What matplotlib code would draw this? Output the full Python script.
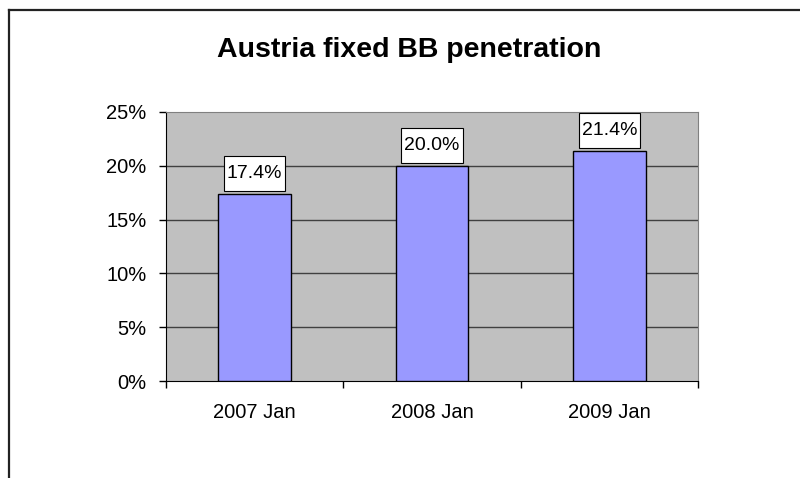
import matplotlib.pyplot as plt
from matplotlib.lines import Line2D
from matplotlib.path import Path
from matplotlib.ticker import FixedLocator, FuncFormatter

plt.rcParams['font.family'] = ['Liberation Sans', 'DejaVu Sans']

# Daten
periods = ["2007 Jan", "2008 Jan", "2009 Jan"]
penetration = [17.4, 20.0, 21.4]  # in %
y_ticks = [0, 5, 10, 15, 20, 25]


def label_box(x0, y0, width, height, mutation_size):
    # Rechteck mit mehr Platz oben/unten als seitlich
    px = 0.15 * mutation_size
    py = 0.47 * mutation_size
    x1, y1 = x0 - px, y0 - py
    x2, y2 = x0 + width + px, y0 + height + py
    return Path([(x1, y1), (x2, y1), (x2, y2), (x1, y2), (x1, y1)], closed=True)


fig = plt.figure(figsize=(8, 4.78), dpi=100)
ax = fig.add_axes([0.2075, 0.2029, 0.665, 0.5628])

ax.set_facecolor('#C0C0C0')
x = range(len(periods))
ax.bar(x, penetration, width=0.41, color='#9999FF', edgecolor='black', linewidth=1, zorder=3)

ax.set_xlim(-0.5, len(periods) - 0.5)
ax.set_ylim(0, 25)

# Gitterlinien
for t in y_ticks[1:-1]:
    ax.axhline(t, color='#404040', linewidth=1, zorder=1)

# Achsen
ax.yaxis.set_major_locator(FixedLocator(y_ticks))
ax.yaxis.set_major_formatter(FuncFormatter(lambda v, p: f"{v:.0f}%"))
ax.tick_params(axis='y', direction='out', length=5, width=1, pad=9, labelsize=14.5)

ax.xaxis.set_major_locator(FixedLocator([i - 0.5 for i in range(len(periods) + 1)]))
ax.xaxis.set_major_formatter(FuncFormatter(lambda v, p: ""))
ax.xaxis.set_minor_locator(FixedLocator(list(x)))
ax.set_xticklabels(periods, minor=True)
ax.tick_params(axis='x', which='major', direction='out', length=5, width=1)
ax.tick_params(axis='x', which='minor', length=0, pad=16, labelsize=14.5)

for side in ['top', 'right']:
    ax.spines[side].set_color('#808080')
for side in ['left', 'bottom']:
    ax.spines[side].set_color('black')

# Wertbeschriftungen
for i, v in enumerate(penetration):
    ax.annotate(f"{v:.1f}%", (i, v), xytext=(0, 8.7), textcoords='offset points',
                ha='center', va='bottom', fontsize=14, zorder=5,
                bbox=dict(boxstyle=label_box, facecolor='white',
                          edgecolor='black', linewidth=0.8))

fig.text(0.511, 0.88, "Austria fixed BB penetration", ha='center', va='baseline',
         fontsize=20.5, fontweight='bold')

# Rahmen
fig.add_artist(Line2D([9 / 800, 1], [1 - 10 / 478, 1 - 10 / 478], color='#222222', linewidth=1.6))
fig.add_artist(Line2D([9 / 800, 9 / 800], [0, 1 - 10 / 478], color='#222222', linewidth=1.6))

fig.savefig('out.png', dpi=100)
